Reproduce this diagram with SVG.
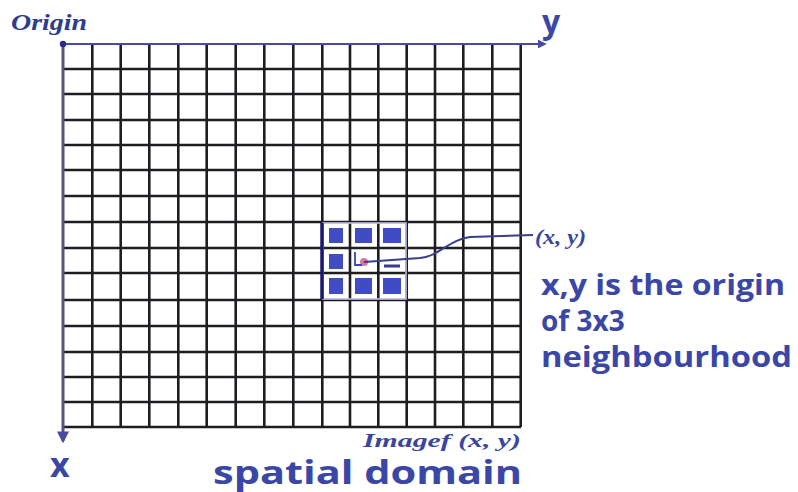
<svg xmlns="http://www.w3.org/2000/svg" width="798" height="492" viewBox="0 0 798 492">
<style>
.grid{fill:none;stroke:#1e1e22;stroke-width:2.6}
.sq{fill:#3f4cc4}
.blue{fill:#3b47a6}
.sans{font-family:"Open Sans","DejaVu Sans",sans-serif;font-weight:bold}
.serif{font-family:"Liberation Serif","DejaVu Serif",serif;font-weight:bold;font-style:italic}
</style>
<defs>
<marker id="arr" viewBox="0 0 10 10" refX="8" refY="5" markerWidth="4" markerHeight="4" orient="auto">
<path d="M0,0 L10,5 L0,10 z" fill="#4a4aa0"/>
</marker>
</defs>
<rect width="798" height="492" fill="#ffffff"/>
<g id="grid">
<path class="grid" d="M92.3,45V427M120.7,45V427M149.3,45V427M178.3,45V427M206.7,45V427M235.7,45V427M264.3,45V427M293.3,45V427M322.3,45V427M350,45V427M378.3,45V427M406.7,45V427M435,45V427M463.3,45V427M492.3,45V427M520.7,45V427M63,69H521M63,94H521M63,120H521M63,145H521M63,170H521M63,196H521M63,222H521M63,248H521M63,273H521M63,300H521M63,326H521M63,352H521M63,377H521M63,402H521M63,427H521"/>
</g>
<g id="axes">
<line x1="63" y1="44" x2="545" y2="44" stroke="#4a4aa0" stroke-width="2.2" marker-end="url(#arr)"/>
<line x1="63" y1="44" x2="63" y2="441" stroke="#55557f" stroke-width="3" marker-end="url(#arr)"/>
<circle cx="63" cy="44" r="3.2" fill="#2a2a90"/>
</g>
<g id="neighbourhood">
<rect x="323" y="223" width="83" height="76" fill="none" stroke="#c8c8ee" stroke-width="1.5"/>
<rect class="sq" x="329" y="228" width="14" height="15"/>
<rect class="sq" x="355" y="228" width="17" height="15"/>
<rect class="sq" x="383" y="228" width="18" height="15"/>
<rect class="sq" x="329" y="254" width="14" height="15"/>
<rect class="sq" x="329" y="278" width="14" height="16"/>
<rect class="sq" x="355" y="278" width="17" height="16"/>
<rect class="sq" x="383" y="278" width="18" height="16"/>
<line x1="322" y1="223" x2="322" y2="299" stroke="#1a1a70" stroke-width="3.5"/>
<circle cx="364" cy="262" r="4" fill="#d0508a" opacity="0.8"/>
<path d="M355,252 V265 H362" fill="none" stroke="#3b47b0" stroke-width="1.8"/>
<line x1="384" y1="266" x2="400" y2="266" stroke="#3a3a90" stroke-width="3"/>
</g>
<g id="connectors">
<path d="M364,262 L420,258 C440,256 448,240 470,237 L533,235" fill="none" stroke="#3a3f8a" stroke-width="2"/>
</g>
<g id="labels">
<text class="serif" x="11" y="30" font-size="24" fill="#2e3d8c" textLength="76" lengthAdjust="spacingAndGlyphs">Origin</text>
<text class="sans blue" x="542" y="33" font-size="32">y</text>
<text class="sans blue" x="50" y="477" font-size="34">x</text>
<text class="serif" x="535" y="244" font-size="21" fill="#3a45a0" textLength="51" lengthAdjust="spacingAndGlyphs">(x, y)</text>
<text class="sans blue" x="541" y="295" font-size="28" textLength="244" lengthAdjust="spacingAndGlyphs">x,y is the origin</text>
<text class="sans blue" x="541" y="331" font-size="28">of 3x3</text>
<text class="sans blue" x="541" y="367" font-size="28" textLength="251" lengthAdjust="spacingAndGlyphs">neighbourhood</text>
<text class="serif" x="363" y="447" font-size="19" fill="#3a45a0" textLength="158" lengthAdjust="spacingAndGlyphs">Imagef (x, y)</text>
<text class="sans blue" x="213" y="484" font-size="32" textLength="309" lengthAdjust="spacingAndGlyphs">spatial domain</text>
</g>
</svg>
